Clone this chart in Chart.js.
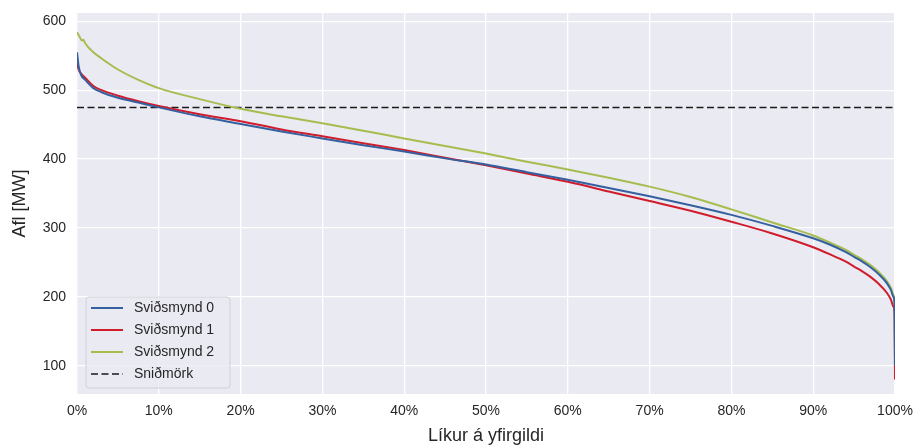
<!DOCTYPE html>
<html>
<head>
<meta charset="utf-8">
<script src="https://cdn.jsdelivr.net/npm/chart.js@4.4.1/dist/chart.umd.min.js"></script>
<style>
  html, body { margin: 0; padding: 0; background: #ffffff; }
  #wrap { width: 917px; height: 445px; }
</style>
</head>
<body>
<div id="wrap"><canvas id="lduChart" width="917" height="445"></canvas></div>
<script>
// Exceedance probability (%) and power (MW)
const probS0 = [0, 0.2, 0.5, 1, 2, 3, 5, 7.5, 10, 15, 20, 25, 30, 35, 40, 45, 50, 55, 60, 65, 70, 75, 80, 85, 90, 92, 94, 95, 96, 97, 98, 99, 99.5, 99.8, 99.95, 100];
const powerS0 = [555, 535, 522, 515, 503, 497, 489, 482, 475, 462, 451, 440, 430, 420, 411, 401, 392, 381, 370, 358, 346, 333, 319, 303, 285, 276, 265, 258, 251, 243, 233, 220, 210, 200, 188, 100];

const probS1 = [0, 0.2, 0.5, 1, 2, 3, 5, 7.5, 10, 15, 20, 25, 30, 35, 40, 45, 50, 55, 60, 65, 70, 75, 80, 85, 90, 92, 94, 95, 96, 97, 98, 99, 99.5, 99.8, 99.95, 100];
const powerS1 = [540, 530, 524, 518, 506, 500, 492, 484, 477, 465, 455, 443, 433, 423, 413, 402, 391, 379, 367, 353, 339, 325, 309, 292, 272, 262, 251, 244, 237, 229, 219, 206, 196, 186, 175, 80];

const probS2 = [0, 0.3, 0.6, 0.8, 1, 2, 3, 5, 7.5, 10, 15, 20, 25, 30, 35, 40, 45, 50, 55, 60, 65, 70, 75, 80, 85, 90, 92, 94, 95, 96, 97, 98, 99, 99.5, 99.8, 99.95, 100];
const powerS2 = [584, 578, 572, 573, 568, 555, 546, 530, 515, 503, 487, 473, 462, 452, 441, 430, 419, 408, 396, 385, 373, 360, 345, 327, 308, 289, 279, 268, 261, 254, 246, 236, 223, 213, 203, 190, 95];

const limitProb = [0, 100];
const limitPower = [475, 475];

const seriesNames = ['Sviðsmynd 0', 'Sviðsmynd 1', 'Sviðsmynd 2', 'Sniðmörk'];
const xTicks = [0, 10, 20, 30, 40, 50, 60, 70, 80, 90, 100];
const yTicks = [100, 200, 300, 400, 500, 600];

function pts(xs, ys) {
    return xs.map((x, i) => ({ x: x, y: ys[i] }));
}

const textColor = '#262626';
const fontFam = '"Liberation Sans", Arial, sans-serif';

// grey seaborn-like plot background
const bgPlugin = {
    id: 'plotBg',
    beforeDraw(chart) {
        const a = chart.chartArea;
        const ctx = chart.ctx;
        ctx.save();
        ctx.fillStyle = '#EAEAF2';
        ctx.fillRect(a.left, a.top, a.right - a.left, a.bottom - a.top);
        ctx.restore();
    }
};

// legend box drawn inside the lower left corner of the plot
const innerLegend = {
    id: 'innerLegend',
    afterDraw(chart) {
        const ctx = chart.ctx;
        const a = chart.chartArea;
        const x0 = a.left + 9, y0 = a.bottom - 97, w = 144, h = 91;
        ctx.save();
        ctx.beginPath();
        ctx.roundRect(x0, y0, w, h, 3);
        ctx.fillStyle = 'rgba(234,234,242,0.8)';
        ctx.fill();
        ctx.strokeStyle = '#d0d0d8';
        ctx.lineWidth = 1;
        ctx.stroke();
        ctx.font = '14px ' + fontFam;
        ctx.textBaseline = 'middle';
        chart.data.datasets.forEach((ds, i) => {
            const y = y0 + 11 + i * 22;
            ctx.beginPath();
            ctx.setLineDash(ds.borderDash || []);
            ctx.strokeStyle = ds.borderColor;
            ctx.lineWidth = ds.borderWidth;
            ctx.moveTo(x0 + 5, y);
            ctx.lineTo(x0 + 37, y);
            ctx.stroke();
            ctx.setLineDash([]);
            ctx.fillStyle = textColor;
            ctx.fillText(ds.label, x0 + 48, y);
        });
        ctx.restore();
    }
};

const ctx = document.getElementById('lduChart').getContext('2d');
const lduChart = new Chart(ctx, {
    type: 'line',
    data: {
        datasets: [
            { label: seriesNames[0], data: pts(probS0, powerS0), borderColor: '#35609f', borderWidth: 2 },
            { label: seriesNames[1], data: pts(probS1, powerS1), borderColor: '#d01c2b', borderWidth: 2 },
            { label: seriesNames[2], data: pts(probS2, powerS2), borderColor: '#a5bd4f', borderWidth: 2 },
            { label: seriesNames[3], data: pts(limitProb, limitPower), borderColor: '#1a1a1a', borderWidth: 1.5, borderDash: [7, 3.5] }
        ]
    },
    options: {
        responsive: false,
        animation: false,
        layout: { padding: { top: 13, right: 22, left: 0, bottom: 0 } },
        elements: {
            point: { radius: 0 },
            line: { cubicInterpolationMode: 'monotone' }
        },
        plugins: {
            legend: { display: false },
            tooltip: { enabled: false }
        },
        scales: {
            x: {
                type: 'linear',
                min: 0,
                max: 100,
                afterBuildTicks: s => { s.ticks = xTicks.map(v => ({ value: v })); },
                afterFit: s => { s.height = 51; s.paddingLeft = 0; s.paddingRight = 0; },
                border: { display: false },
                grid: { color: '#ffffff', lineWidth: 1.3, drawTicks: false },
                ticks: {
                    padding: 9,
                    color: textColor,
                    font: { size: 14, family: fontFam },
                    maxRotation: 0,
                    callback: v => v + '%'
                },
                title: {
                    display: true,
                    text: 'Líkur á yfirgildi',
                    color: textColor,
                    font: { size: 18, family: fontFam, lineHeight: 1 },
                    padding: { top: 0, bottom: 0 }
                }
            },
            y: {
                type: 'linear',
                min: 59,
                max: 612,
                afterBuildTicks: s => { s.ticks = yTicks.map(v => ({ value: v })); },
                afterFit: s => { s.width = 77; s.paddingTop = 0; s.paddingBottom = 0; },
                border: { display: false },
                grid: { color: '#ffffff', lineWidth: 1.3, drawTicks: false },
                ticks: {
                    padding: 11,
                    color: textColor,
                    font: { size: 14, family: fontFam }
                },
                title: {
                    display: true,
                    text: 'Afl [MW]',
                    color: textColor,
                    font: { size: 18, family: fontFam, lineHeight: 1 },
                    padding: { top: 11, bottom: 0 }
                }
            }
        }
    },
    plugins: [bgPlugin, innerLegend]
});
</script>
</body>
</html>
